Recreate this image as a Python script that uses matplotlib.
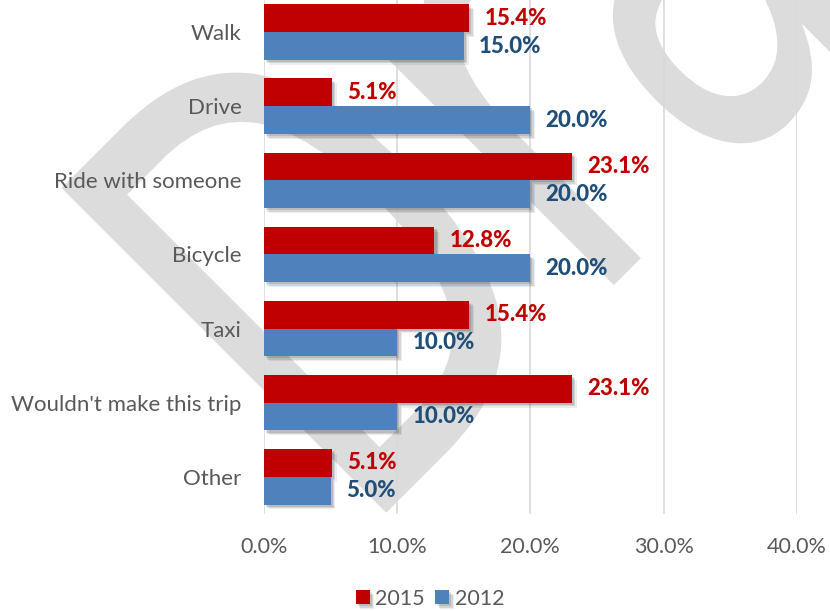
import matplotlib.pyplot as plt
import matplotlib.patheffects as pe
from matplotlib.textpath import TextPath
from matplotlib.patches import PathPatch
from matplotlib.transforms import Affine2D
from matplotlib.font_manager import FontProperties
import numpy as np

## trip mode answers for the two survey years (percent)
modes = ["Walk", "Drive", "Ride with someone", "Bicycle", "Taxi",
         "Wouldn't make this trip", "Other"]
pct_2015 = [15.4, 5.1, 23.1, 12.8, 15.4, 23.1, 5.1]
pct_2012 = [15.0, 20.0, 20.0, 20.0, 10.0, 10.0, 5.0]
x_ticks = [0, 10, 20, 30, 40]

red = "#C00000"
blue = "#4F81BD"
red_text = "#C00000"
blue_text = "#1F4E79"
grey_text = "#595959"

plt.rcParams["font.family"] = ["Lato", "DejaVu Sans"]

fig = plt.figure(figsize=(8.3, 6.11), dpi=100)
ax = fig.add_axes([0.318, 0.159, 0.642, 0.849])
ax.patch.set_alpha(0)

## big condensed "Draft" stamp behind everything (pixel coords)
stamp = TextPath((0, 0), "Draft", size=1, prop=FontProperties(family="DejaVu Sans"))
em = 630
stamp_tf = Affine2D().scale(em * 0.67, em).rotate_deg(45).translate(357, 69)
fig.add_artist(PathPatch(stamp, transform=stamp_tf, facecolor="#dcdcdc",
                         edgecolor="none", zorder=-5))

## soft drop shadow for the bars
shadow = [pe.SimplePatchShadow(offset=(1.5, -1.5), shadow_rgbFace="k", alpha=0.12),
          pe.SimplePatchShadow(offset=(2.5, -2.5), shadow_rgbFace="k", alpha=0.1),
          pe.SimplePatchShadow(offset=(3.5, -3.5), shadow_rgbFace="k", alpha=0.07),
          pe.Normal()]

y = np.arange(len(modes))
h = 0.375
bars_15 = ax.barh(y - h / 2, pct_2015, height=h, color=red, label="2015", zorder=3)
bars_12 = ax.barh(y + h / 2, pct_2012, height=h, color=blue, label="2012", zorder=3)
for b in list(bars_15) + list(bars_12):
    b.set_path_effects(shadow)

## value labels next to each bar
for yi, v in zip(y - h / 2, pct_2015):
    ax.annotate(f"{v:.1f}%", (v, yi), xytext=(11, 0), textcoords="offset points",
                va="center", ha="left", color=red_text, fontsize=16,
                fontweight="black", zorder=4)
for yi, v in zip(y + h / 2, pct_2012):
    ax.annotate(f"{v:.1f}%", (v, yi), xytext=(11, 0), textcoords="offset points",
                va="center", ha="left", color=blue_text, fontsize=16,
                fontweight="black", zorder=4)

ax.set_ylim(len(modes) - 0.5, -0.5)
ax.set_xlim(0, 40)
ax.set_yticks(y)
ax.set_yticklabels(modes, fontsize=16)
ax.set_xticks(x_ticks)
ax.set_xticklabels([f"{t:.1f}%" for t in x_ticks], fontsize=15.5)
ax.tick_params(axis="both", length=0, labelcolor=grey_text)
ax.tick_params(axis="y", pad=16)
ax.tick_params(axis="x", pad=17)
ax.xaxis.grid(True, color="#d9d9d9", linewidth=1.2, zorder=0)
ax.set_axisbelow(True)
for s in ax.spines.values():
    s.set_visible(False)

fig.legend(handles=[bars_15, bars_12], labels=["2015", "2012"], loc="center",
           bbox_to_anchor=(0.518, 0.02), ncol=2, frameon=False, fontsize=15.5,
           labelcolor=grey_text, handlelength=0.65, handleheight=0.65,
           handletextpad=0.25, columnspacing=0.5)

fig.savefig("out.png", dpi=100)
